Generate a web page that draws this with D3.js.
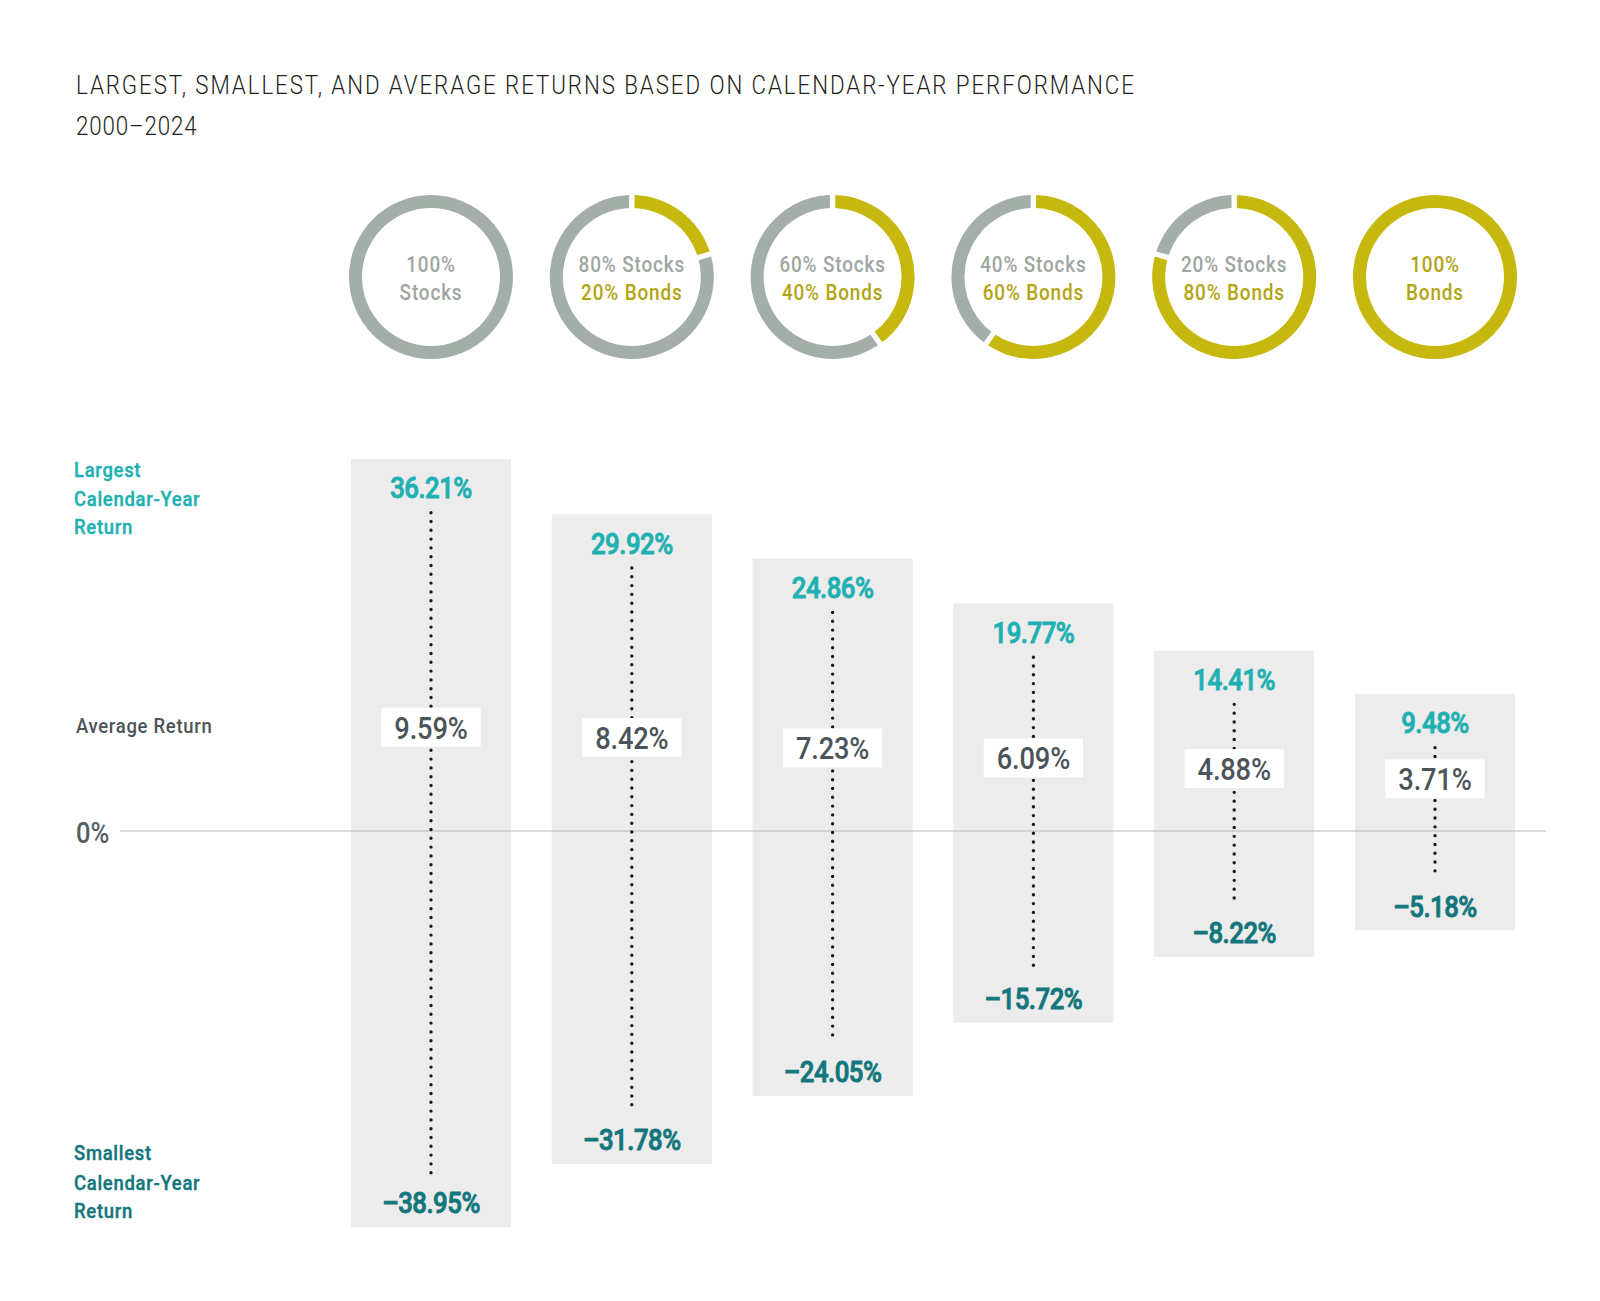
<!DOCTYPE html>
<html><head><meta charset="utf-8">
<script src="https://cdn.jsdelivr.net/npm/d3@7"></script>
<style>
body{margin:0;background:#fff;}
svg text{font-family:Roboto,'Noto Sans',sans-serif;}
</style></head><body>
<svg id="c" width="1600" height="1301"></svg>
<script>
const categories = ["100% Stocks","80% Stocks / 20% Bonds","60% Stocks / 40% Bonds","40% Stocks / 60% Bonds","20% Stocks / 80% Bonds","100% Bonds"];
const stockPct = [100, 80, 60, 40, 20, 0];
const bondPct = [0, 20, 40, 60, 80, 100];
const largest = [36.21, 29.92, 24.86, 19.77, 14.41, 9.48];
const average = [9.59, 8.42, 7.23, 6.09, 4.88, 3.71];
const smallest = [-38.95, -31.78, -24.05, -15.72, -8.22, -5.18];
const donutLine1 = ["100%", "80% Stocks", "60% Stocks", "40% Stocks", "20% Stocks", "100%"];
const donutLine1Kind = ["stocks", "stocks", "stocks", "stocks", "stocks", "bonds"];
const donutLine2 = ["Stocks", "20% Bonds", "40% Bonds", "60% Bonds", "80% Bonds", "Bonds"];
const donutLine2Kind = ["stocks", "bonds", "bonds", "bonds", "bonds", "bonds"];
const titleText = "LARGEST, SMALLEST, AND AVERAGE RETURNS BASED ON CALENDAR-YEAR PERFORMANCE";
const subtitleText = "2000\u20132024";
const largestRowLabel = ["Largest", "Calendar-Year", "Return"];
const averageRowLabel = "Average Return";
const smallestRowLabel = ["Smallest", "Calendar-Year", "Return"];
const zeroLabel = "0%";

const C = {
  stocks: "#a4aea8", bonds: "#c6b80e",
  stocksText: "#9ea6a2", bondsText: "#b2a412",
  maxText: "#1fb0b2", minText: "#13767c", avgText: "#4b5458",
  bar: "#ececec", zero: "#b8b8b8", dots: "#1a1a1a", title: "#231f20"
};

const svg = d3.select("#c");
const fmt = v => d3.format(".2f")(Math.abs(v)) + "%";
const fmtMin = v => "\u2013" + d3.format(".2f")(Math.abs(v)) + "%";
const tr = (x, y, s) => `translate(${x},${y}) scale(${s},1)`;
const thicken = (sel, color, w) => sel.attr("stroke", color).attr("stroke-width", w).attr("paint-order", "stroke");

const x = d3.scaleBand().domain(categories).range([351, 1515]).paddingInner(0.2032).paddingOuter(0);
const y = d3.scaleLinear().domain([-40, 40]).range([831 + 351.6, 831 - 351.6]);
const cx = c => x(c) + x.bandwidth() / 2;

// Title
const titleS = 0.86;
const t1 = svg.append("text").attr("transform", tr(76, 94, titleS)).attr("fill", C.title)
  .style("font-size", "26px").style("font-weight", 300).text(titleText);
const w0 = t1.node().getComputedTextLength();
t1.style("letter-spacing", ((1058 / titleS - w0) / (titleText.length - 1)) + "px");
svg.append("text").attr("transform", tr(76, 135, titleS)).attr("fill", C.title)
  .style("font-size", "26px").style("font-weight", 300).style("letter-spacing", "1px").text(subtitleText);

// Donuts
const pie = d3.pie().sort(null).value(d => d.v);
const arc = d3.arc().innerRadius(69).outerRadius(82);
const donutY = 277;
const dS = 0.86;
categories.forEach((c, i) => {
  const parts = [{k: "bonds", v: bondPct[i]}, {k: "stocks", v: stockPct[i]}];
  const nz = parts.filter(p => p.v > 0).length;
  const g = svg.append("g").attr("transform", `translate(${cx(c)},${donutY})`);
  g.selectAll("path").data(pie.padAngle(nz > 1 ? 0.05 : 0)(parts).filter(d => d.data.v > 0))
    .join("path").attr("d", arc).attr("fill", d => C[d.data.k]);
  g.append("text").attr("text-anchor", "middle").attr("transform", tr(0, -5, dS))
    .attr("fill", C[donutLine1Kind[i] + "Text"]).style("font-size", "22px").style("font-weight", 500)
    .style("letter-spacing", "1px").text(donutLine1[i]);
  g.append("text").attr("text-anchor", "middle").attr("transform", tr(0, 23, dS))
    .attr("fill", C[donutLine2Kind[i] + "Text"]).style("font-size", "22px").style("font-weight", 500)
    .style("letter-spacing", "1px").text(donutLine2[i]);
});

// Bars
const padTop = 53.7, padBot = 53.6;
svg.append("g").selectAll("rect").data(categories).join("rect")
  .attr("x", c => x(c)).attr("width", x.bandwidth())
  .attr("y", (c, i) => y(largest[i]) - padTop)
  .attr("height", (c, i) => (y(smallest[i]) + padBot) - (y(largest[i]) - padTop))
  .attr("fill", C.bar);

// Zero line
svg.append("line").attr("x1", 120).attr("x2", 1546).attr("y1", y(0)).attr("y2", y(0))
  .attr("stroke", C.zero).attr("stroke-width", 1.2);

// Dotted range lines
svg.append("g").selectAll("line").data(categories).join("line")
  .attr("x1", c => cx(c)).attr("x2", c => cx(c))
  .attr("y1", (c, i) => y(largest[i])).attr("y2", (c, i) => y(smallest[i]))
  .attr("stroke", C.dots).attr("stroke-width", 3.4).attr("stroke-linecap", "round")
  .attr("stroke-dasharray", "0 8.8");

const vS = 0.86;
// Max labels
svg.append("g").selectAll("text").data(categories).join("text")
  .attr("transform", (c, i) => tr(cx(c), y(largest[i]) - 14.5, vS))
  .attr("text-anchor", "middle").attr("fill", C.maxText)
  .style("font-size", "30px").style("font-weight", 500).style("letter-spacing", "-0.6px")
  .call(thicken, C.maxText, 0.9)
  .text((c, i) => fmt(largest[i]));

// Min labels
svg.append("g").selectAll("text").data(categories).join("text")
  .attr("transform", (c, i) => tr(cx(c), y(smallest[i]) + 40, vS))
  .attr("text-anchor", "middle").attr("fill", C.minText)
  .style("font-size", "30px").style("font-weight", 500).style("letter-spacing", "-0.6px")
  .call(thicken, C.minText, 0.9)
  .text((c, i) => fmtMin(smallest[i]));

// Average boxes
const aS = 0.88;
const avgG = svg.append("g").selectAll("g").data(categories).join("g")
  .attr("transform", (c, i) => `translate(${cx(c)},${y(average[i])})`);
const avgT = avgG.append("text").attr("text-anchor", "middle").attr("transform", tr(0, -8, aS))
  .attr("fill", C.avgText).style("font-size", "31px").style("font-weight", 500).style("letter-spacing", "-0.2px")
  .text((c, i) => fmt(average[i]));
avgG.insert("rect", "text").each(function(c, i) {
  const tw = avgT.nodes()[i].getComputedTextLength() * aS;
  const bw = Math.max(98, tw + 26);
  d3.select(this).attr("x", -bw / 2).attr("width", bw).attr("y", -39).attr("height", 39).attr("fill", "#fff");
});

// Row labels
const lS = 0.88;
const lab = (arr, ys, color) => arr.forEach((s, k) => svg.append("text").attr("transform", tr(74, ys[k], lS))
  .attr("fill", color).style("font-size", "21px").style("font-weight", 500).style("letter-spacing", "0.8px")
  .call(thicken, color, 0.4).text(s));
lab(largestRowLabel, [477, 506, 534], C.maxText);
lab(smallestRowLabel, [1160, 1190, 1218], C.minText);
svg.append("text").attr("transform", tr(76, 733, lS)).attr("fill", C.avgText)
  .style("font-size", "21px").style("font-weight", 500).style("letter-spacing", "0.8px").text(averageRowLabel);
svg.append("text").attr("transform", tr(76, 843, 0.88)).attr("fill", "#555d61")
  .style("font-size", "29px").style("font-weight", 500).text(zeroLabel);
</script></body></html>
